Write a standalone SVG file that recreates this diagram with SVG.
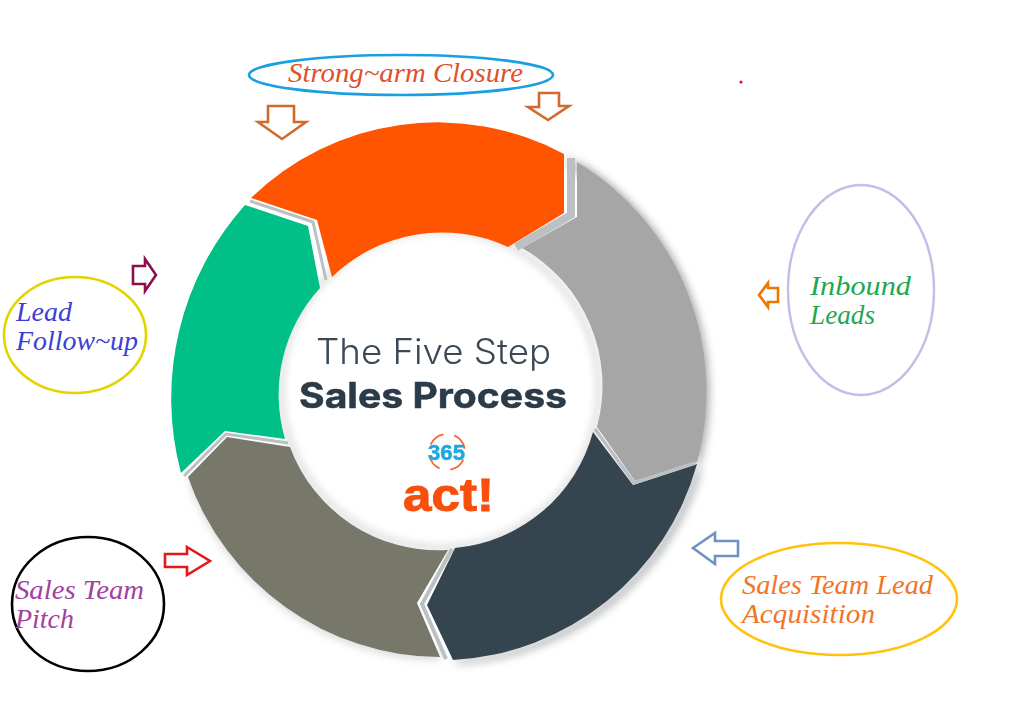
<svg xmlns="http://www.w3.org/2000/svg" width="1024" height="707" viewBox="0 0 1024 707">
<defs>
<filter id="soft" x="-5%" y="-5%" width="110%" height="110%"><feGaussianBlur stdDeviation="0.6"/></filter>
<filter id="txt" x="-5%" y="-20%" width="110%" height="140%"><feGaussianBlur stdDeviation="0.5"/></filter>
<filter id="shadow" x="-15%" y="-15%" width="130%" height="130%"><feGaussianBlur stdDeviation="4"/></filter>
<filter id="edge" x="-10%" y="-10%" width="120%" height="120%"><feGaussianBlur stdDeviation="0.7"/></filter>
</defs>
<style>
.lab{font-family:"Liberation Serif",serif;font-style:italic;font-size:27px}
.arr{fill:#fff;stroke-width:2.6}
.ell{fill:none}
.seg{filter:url(#soft)}
.gap{fill:none;stroke:#bcc0c3;stroke-linejoin:miter;filter:url(#edge)}
</style>
<rect width="1024" height="707" fill="#fff"/>

<g id="ring-shadow">
<path d="M577 162A268 268 0 0 1 697 462L700 475A268 268 0 0 1 460 664L453 660A268 268 0 0 0 697 462Z" fill="#8a8f92" opacity=".7" filter="url(#shadow)"/>
<path d="M564 154A268 268 0 0 1 710 380A268 268 0 0 1 700 470L690 450A260 260 0 0 0 570 170Z" fill="#9a9a9a" opacity=".45" filter="url(#shadow)"/>
<path d="M188 480A268 268 0 0 0 440 660L440 650A260 260 0 0 1 200 480Z" fill="#aaa" opacity=".45" filter="url(#shadow)"/>
<circle cx="440" cy="389" r="159" fill="none" stroke="#777" stroke-width="4" opacity=".4" filter="url(#shadow)"/>
</g>

<g id="step-strongarm"><path class="seg" fill="#ff5500" d="M251 198A268 268 0 0 1 564 154L564 213L508 247A158 158 0 0 0 332 277L317 220Z"/></g>
<g id="step-inbound"><path class="seg" fill="#a6a6a6" d="M577 162A268 268 0 0 1 697 462L635 481L597 427A158 158 0 0 0 522 248L577 217Z"/></g>
<g id="step-acquisition"><path class="seg" fill="#36454f" d="M593 432L633 485L697 464A268 268 0 0 1 453 660L427 605L455 548A158 158 0 0 0 593 432Z"/></g>
<g id="step-pitch"><path class="seg" fill="#77776b" d="M188 477L227 437L290 447A158 158 0 0 0 448 550L417 603L440 657A268 268 0 0 1 188 477Z"/></g>
<g id="step-followup"><path class="seg" fill="#03bf87" d="M245 205L308 226L320 288A158 158 0 0 0 285 439L225 431L181 473A290 290 0 0 1 245 205Z"/></g>

<g id="connectors">
<path class="gap" stroke-width="3" d="M250 201L313 222L326 280"/>
<path class="gap" stroke-width="8" d="M571 158L571 215L516 247"/>
<path class="gap" stroke-width="3.5" d="M595 429L634 483L695 463"/>
<path class="gap" stroke-width="4" d="M452 549L422 604L446 659"/>
<path class="gap" stroke-width="3" d="M184 476L226 434L288 443"/>
<polygon class="arr" stroke="#d2692d" points="268,106 294,106 294,122 306,122 282,139 258,122 268,122"/>
<polygon class="arr" stroke="#d2692d" points="539,93 559,93 559,106 569,106 548,120 528,107 539,107"/>
<polygon class="arr" stroke="#8a0f4f" points="133,266 145,266 145,259 156,275 145,291 145,284 133,284"/>
<polygon class="arr" stroke="#ee7600" points="759,295 768,283 768,288 778,288 778,302 768,302 768,307"/>
<polygon class="arr" stroke="#e21a1a" points="165,554 187,554 187,547 210,561 187,575 187,567 165,567"/>
<polygon class="arr" stroke="#6f92c4" points="693,548 715,533 715,541 738,541 738,556 715,556 715,564"/>
</g>

<g id="center-title" filter="url(#txt)">
<text x="316" y="364" font-family="Inter,'Liberation Sans',sans-serif" font-weight="300" font-size="35" fill="#3a4856" textLength="235" lengthAdjust="spacingAndGlyphs">The Five Step</text>
<text x="299" y="408" font-family="Inter,'Liberation Sans',sans-serif" font-weight="700" font-size="35" fill="#2b3a48" stroke="#2b3a48" stroke-width=".5" textLength="268" lengthAdjust="spacingAndGlyphs">Sales Process</text>
</g>
<g id="logo" filter="url(#txt)">
<circle cx="447" cy="452" r="18" fill="none" stroke="#f7683a" stroke-width="1.8" stroke-dasharray="17 11" transform="rotate(-65 447 452)"/>
<text x="428" y="460" font-family="'Liberation Sans',sans-serif" font-weight="700" font-size="22" fill="#1fa9dc" stroke="#1fa9dc" stroke-width=".5" textLength="37" lengthAdjust="spacingAndGlyphs">365</text>
<text x="403" y="511" font-family="'Liberation Sans',sans-serif" font-weight="700" font-size="46" fill="#f94f0c" stroke="#f94f0c" stroke-width="1" textLength="91" lengthAdjust="spacingAndGlyphs">act!</text>
</g>

<g id="node-strongarm"><ellipse class="ell" cx="401" cy="75" rx="152" ry="20" stroke="#1aa0e0" stroke-width="2.6"/><text class="lab" x="288" y="82" fill="#e0502a" textLength="235" lengthAdjust="spacingAndGlyphs">Strong~arm Closure</text></g>
<g id="node-inbound"><ellipse class="ell" cx="861" cy="290" rx="73" ry="105" stroke="#c4bde6" stroke-width="2.4"/><text class="lab" x="810" y="295" fill="#1fa84f" textLength="101" lengthAdjust="spacingAndGlyphs">Inbound</text><text class="lab" x="810" y="324" fill="#1fa84f" textLength="65" lengthAdjust="spacingAndGlyphs">Leads</text></g>
<g id="node-followup"><ellipse class="ell" cx="75" cy="335" rx="71" ry="58" stroke="#e3d400" stroke-width="2.6"/><text class="lab" x="16" y="321" fill="#3a3fd6" textLength="56" lengthAdjust="spacingAndGlyphs">Lead</text><text class="lab" x="16" y="350" fill="#3a3fd6" textLength="122" lengthAdjust="spacingAndGlyphs">Follow~up</text></g>
<g id="node-pitch"><ellipse class="ell" cx="88" cy="604" rx="76" ry="67" stroke="#000" stroke-width="2.6"/><text class="lab" x="15" y="599" fill="#a2419f" textLength="129" lengthAdjust="spacingAndGlyphs">Sales Team</text><text class="lab" x="15" y="628" fill="#a2419f" textLength="59" lengthAdjust="spacingAndGlyphs">Pitch</text></g>
<g id="node-acquisition"><ellipse class="ell" cx="839" cy="599" rx="118" ry="56" stroke="#ffc20e" stroke-width="2.6"/><text class="lab" x="742" y="594" fill="#f0752a" textLength="191" lengthAdjust="spacingAndGlyphs">Sales Team Lead</text><text class="lab" x="742" y="623" fill="#f0752a" textLength="133" lengthAdjust="spacingAndGlyphs">Acquisition</text></g>
<circle cx="741" cy="82" r="1.6" fill="#e0101a"/>
</svg>
